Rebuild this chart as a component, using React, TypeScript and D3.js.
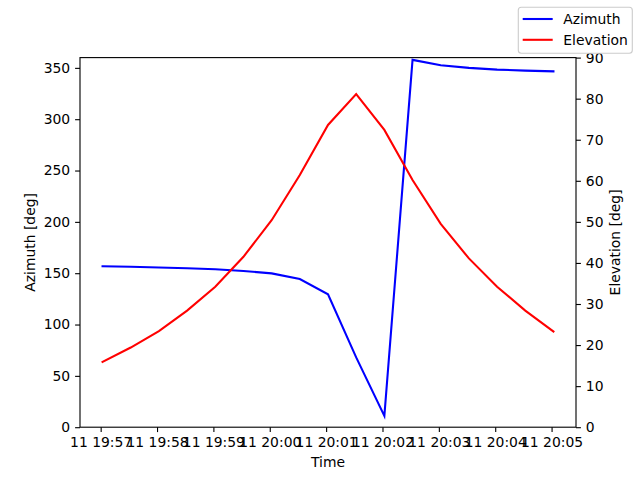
import React, { useEffect, useRef } from 'react';
import * as d3 from 'd3';

// samples every 30 s, starting 11th 19:57:02
const startTime = new Date(2024, 4, 11, 19, 57, 2);
const stepSeconds = 30;

const azimuth = [156.7, 156.2, 155.5, 154.8, 153.8, 152.2, 149.8, 144.3, 129.4, 68, 11, 357.8, 352.5, 350, 348.3, 347.3, 346.6];
const elevation = [15.9, 19.4, 23.4, 28.4, 34.2, 41.5, 50.4, 61.4, 73.6, 81.1, 72.4, 60.2, 49.5, 41.1, 34.2, 28.4, 23.3];

const azTicks = [0, 50, 100, 150, 200, 250, 300, 350];
const elTicks = [0, 10, 20, 30, 40, 50, 60, 70, 80, 90];

const seriesNames = ['Azimuth', 'Elevation'];
const seriesColors = ['blue', 'red'];

const times = azimuth.map((_, i) => new Date(startTime.getTime() + i * stepSeconds * 1000));

const App: React.FC = () => {
  const svgRef = useRef<SVGSVGElement>(null);

  useEffect(() => {
    if (!svgRef.current) return;
    const width = 640;
    const height = 480;
    const margin = { top: 57.6, right: 64, bottom: 52.8, left: 80 };
    const font = 'DejaVu Sans, sans-serif';
    const fs = 13.9;
    const lw = 2.08; // 1.5pt at 100 dpi
    const thin = 1.11; // 0.8pt

    const svg = d3.select(svgRef.current);
    svg.selectAll('*').remove();

    const x0 = times[0].getTime();
    const x1 = times[times.length - 1].getTime();
    const pad = (x1 - x0) * 0.05;
    const x = d3.scaleTime()
      .domain([new Date(x0 - pad), new Date(x1 + pad)])
      .range([margin.left, width - margin.right]);

    const yAz = d3.scaleLinear().domain([0, 360]).range([height - margin.bottom, margin.top]);
    const yEl = d3.scaleLinear().domain([0, 90]).range([height - margin.bottom, margin.top]);

    const g = svg.append('g').attr('font-family', font).attr('font-size', fs);

    // lines
    const azLine = d3.line<number>().x((_, i) => x(times[i])).y(d => yAz(d));
    const elLine = d3.line<number>().x((_, i) => x(times[i])).y(d => yEl(d));

    g.append('path').datum(azimuth).attr('fill', 'none').attr('stroke', seriesColors[0])
      .attr('stroke-width', lw).attr('stroke-linecap', 'square').attr('d', azLine);
    g.append('path').datum(elevation).attr('fill', 'none').attr('stroke', seriesColors[1])
      .attr('stroke-width', lw).attr('stroke-linecap', 'square').attr('d', elLine);

    // frame
    g.append('rect')
      .attr('x', margin.left).attr('y', margin.top)
      .attr('width', width - margin.left - margin.right)
      .attr('height', height - margin.top - margin.bottom)
      .attr('fill', 'none').attr('stroke', 'black').attr('stroke-width', thin);

    const fmt = d3.timeFormat('%d %H:%M');

    const xAxis = d3.axisBottom(x).ticks(d3.timeMinute.every(1)!).tickFormat(d => fmt(d as Date))
      .tickSizeInner(4.9).tickSizeOuter(0).tickPadding(4.9);
    const gx = g.append('g').attr('transform', `translate(0,${height - margin.bottom})`).call(xAxis);

    const leftAxis = d3.axisLeft(yAz).tickValues(azTicks).tickSizeInner(4.9).tickSizeOuter(0).tickPadding(4.9);
    const gl = g.append('g').attr('transform', `translate(${margin.left},0)`).call(leftAxis);

    const rightAxis = d3.axisRight(yEl).tickValues(elTicks).tickSizeInner(4.9).tickSizeOuter(0).tickPadding(4.9);
    const gr = g.append('g').attr('transform', `translate(${width - margin.right},0)`).call(rightAxis);

    [gx, gl, gr].forEach(a => {
      a.select('.domain').remove();
      a.attr('font-family', font).attr('font-size', fs);
      a.selectAll('line').attr('stroke', 'black').attr('stroke-width', thin);
      a.selectAll('text').attr('fill', 'black');
    });

    // axis labels
    g.append('text').attr('x', (margin.left + width - margin.right) / 2).attr('y', 467)
      .attr('text-anchor', 'middle').text('Time');
    g.append('text').attr('transform', `translate(35,${(margin.top + height - margin.bottom) / 2}) rotate(-90)`)
      .attr('text-anchor', 'middle').text('Azimuth [deg]');
    g.append('text').attr('transform', `translate(620,${(margin.top + height - margin.bottom) / 2}) rotate(-90)`)
      .attr('text-anchor', 'middle').text('Elevation [deg]');

    // legend
    const lg = g.append('g');
    lg.append('rect').attr('x', 518.3).attr('y', 7.3).attr('width', 114).attr('height', 46)
      .attr('rx', 3).attr('fill', 'white').attr('fill-opacity', 0.8)
      .attr('stroke', '#cccccc').attr('stroke-width', thin);
    seriesNames.forEach((name, i) => {
      const yy = 19 + i * 20.8;
      lg.append('line').attr('x1', 522.7).attr('x2', 552.7).attr('y1', yy).attr('y2', yy)
        .attr('stroke', seriesColors[i]).attr('stroke-width', lw);
      lg.append('text').attr('x', 563.3).attr('y', yy).attr('dy', '0.35em').text(name);
    });
  }, []);

  return (
    <svg ref={svgRef} width={640} height={480}
      style={{ position: 'absolute', left: 0, top: 0, background: 'white' }} />
  );
};

export default App;
